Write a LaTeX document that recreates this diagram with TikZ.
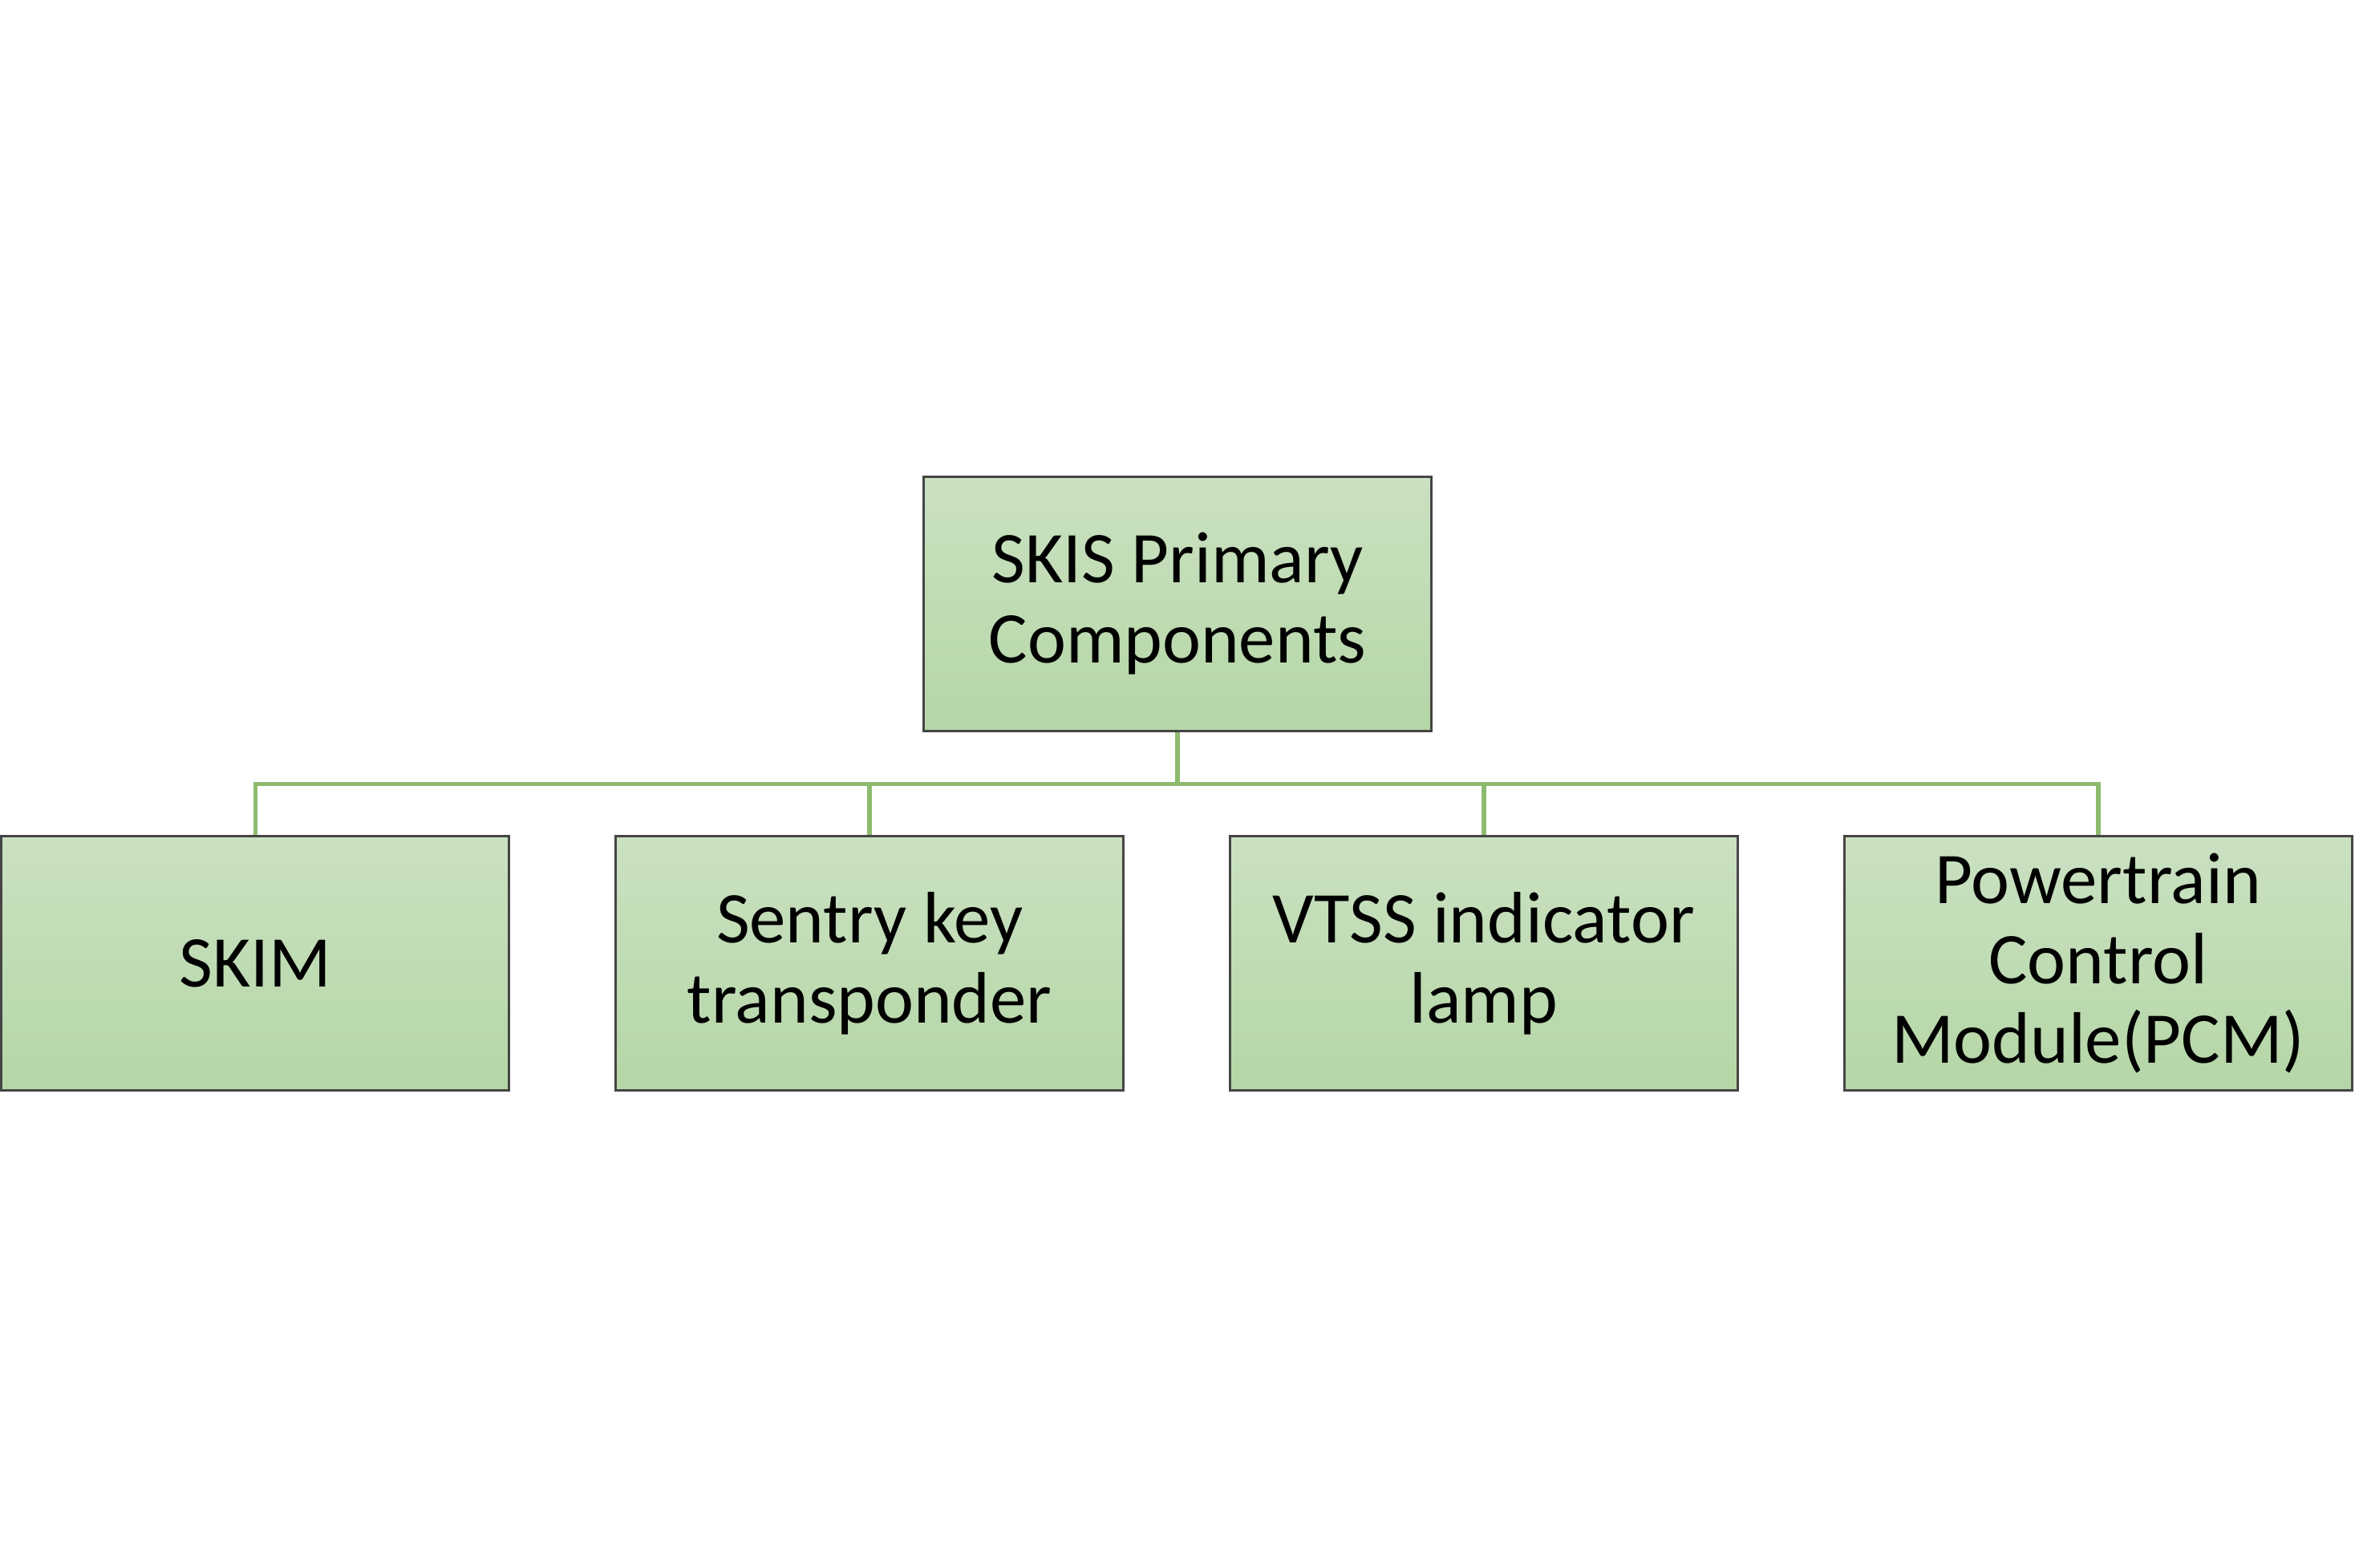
\documentclass[tikz,border=0pt]{standalone}
\usepackage{fontspec}
\setmainfont{Carlito}
\definecolor{boxtop}{HTML}{CAE1C2}
\definecolor{boxbot}{HTML}{B5D6A6}
\definecolor{linkgreen}{HTML}{8CBB6E}
\definecolor{boxedge}{HTML}{454545}
\begin{document}
\begin{tikzpicture}[x=.01cm,y=-.01cm,
    comp/.style={draw=boxedge, line width=.45pt, top color=boxtop, bottom color=boxbot,
        minimum width=3.38cm, minimum height=1.69cm, align=center, inner sep=0,
        font=\fontsize{13.8}{15.1}\selectfont},
    link/.style={draw=linkgreen, line width=.85pt}]
\path[use as bounding box] (0,0) rectangle (1568,1044);
\node[comp] (root) at (784,402){SKIS Primary\\Components};
\foreach \n/\x/\t in {skim/170/SKIM, key/579/{Sentry key\\transponder}, lamp/988/{VTSS indicator\\lamp}, pcm/1397/{Powertrain\\Control\\Module(PCM)}}{
    \node[comp] (\n) at (\x,641.5){\t};
}
%connectors
\coordinate (bus) at (784,522);
\path[link] (root.south) -- (bus);
\foreach \n in {skim,key,lamp,pcm}{
    \path[link] (\n.north) |- (bus);
}
\end{tikzpicture}
\end{document}
